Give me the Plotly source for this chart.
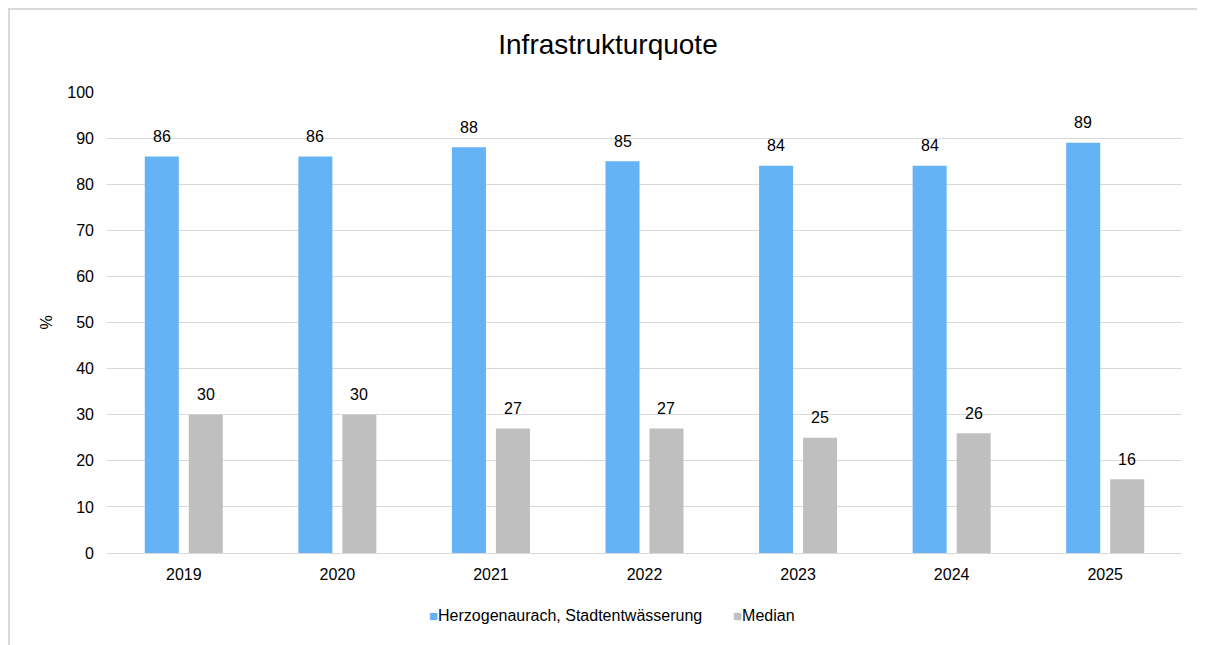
import plotly.graph_objects as go

years = ["2019", "2020", "2021", "2022", "2023", "2024", "2025"]
herzogenaurach = [86, 86, 88, 85, 84, 84, 89]
median = [30, 30, 27, 27, 25, 26, 16]
series_names = ["Herzogenaurach, Stadtentwässerung", "Median"]
series_colors = ["#63B3F5", "#BFBFBF"]
y_ticks = [0, 10, 20, 30, 40, 50, 60, 70, 80, 90, 100]

W, H = 1205, 645
OFF = 8  # page offset of the figure in the browser
L, R, T, B = 107 - OFF, 31, 92 - OFF, 100
FONT = "Liberation Sans, Arial, sans-serif"
FS = 16

fig = go.Figure()
for name, vals, col in zip(series_names, [herzogenaurach, median], series_colors):
    fig.add_trace(go.Bar(x=years, y=vals, name=name, showlegend=False,
                         marker=dict(color=col, line=dict(width=0))))

pw, ph = W - L - R, H - T - B
def px_x(p):
    return (p - OFF - L) / pw
def px_y(p):
    return (H - B - (p - OFF)) / ph

annotations = []
for i, (a, b) in enumerate(zip(herzogenaurach, median)):
    for xs, v in ((-0.143, a), (0.143, b)):
        annotations.append(dict(x=i + xs, y=v, xref="x", yref="y", text=str(v),
                                showarrow=False, yshift=20,
                                font=dict(size=FS, color="#000000", family=FONT)))

# legend drawn as text with coloured square glyphs
legend_x = [427, 731]
for name, col, lx in zip(series_names, series_colors, legend_x):
    annotations.append(dict(
        x=px_x(lx), y=px_y(615), xref="paper", yref="paper", xanchor="left",
        yanchor="middle", showarrow=False,
        text=f"<span style='color:{col};font-size:15px'>■</span>{name}",
        font=dict(size=FS, color="#000000", family=FONT)))

fig.update_layout(
    width=W, height=H,
    margin=dict(l=L, r=R, t=T, b=B),
    paper_bgcolor="#FFFFFF", plot_bgcolor="#FFFFFF",
    font=dict(family=FONT, size=FS, color="#000000"),
    title=dict(text="Infrastrukturquote", x=px_x(608),
               xref="paper", xanchor="center",
               y=1 - (44 - OFF) / H, yanchor="middle",
               font=dict(size=28, color="#000000", family=FONT)),
    barmode="group", bargap=0.427, bargroupgap=0.227,
    showlegend=False,
    xaxis=dict(type="category", showgrid=False, showline=True, linecolor="#D9D9D9",
               linewidth=1, ticks="", ticklabelstandoff=7,
               tickfont=dict(size=FS, color="#000000")),
    yaxis=dict(range=[0, 100], tickvals=y_ticks, showgrid=True, gridcolor="#D9D9D9",
               gridwidth=1, zeroline=False, showline=False, ticks="",
               ticklabelstandoff=12, tickfont=dict(size=FS, color="#000000"),
               title=dict(text="%", standoff=10, font=dict(size=FS, color="#000000"))),
    annotations=annotations,
    shapes=[dict(type="rect", xref="paper", yref="paper",
                 x0=px_x(OFF + 1), x1=px_x(1198.5), y0=px_y(680), y1=px_y(OFF + 1),
                 line=dict(color="#D9D9D9", width=2), fillcolor="rgba(0,0,0,0)",
                 layer="below")],
)

fig.write_html("out.html")
